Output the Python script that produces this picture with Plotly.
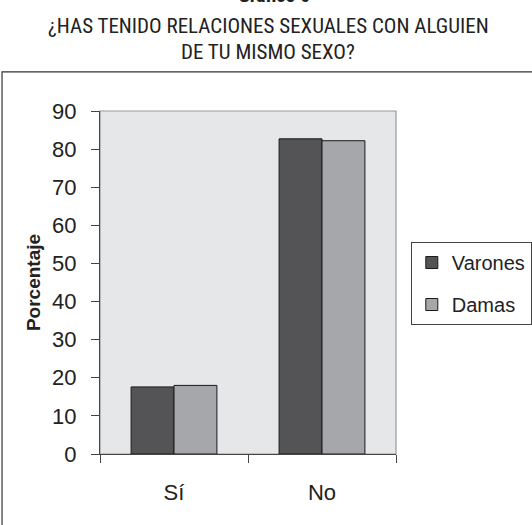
import plotly.graph_objects as go

categories = ["Sí", "No"]
varones = [17.6, 82.7]
damas = [18.0, 82.2]
y_ticks = [0, 10, 20, 30, 40, 50, 60, 70, 80, 90]

fig = go.Figure()
fig.add_trace(go.Bar(
    x=categories, y=varones, name="Varones", legendgroup="v",
    marker=dict(color="#545456", line=dict(color="#1a1a1a", width=1)),
))
fig.add_trace(go.Bar(
    x=categories, y=damas, name="Damas", legendgroup="d",
    marker=dict(color="#a6a7aa", line=dict(color="#1a1a1a", width=1)),
))

# outer frame (right and bottom run off the page)
fig.add_shape(type="rect", xref="paper", yref="paper",
              x0=-0.331, x1=1.8, y0=-0.24, y1=1.114,
              line=dict(color="#333333", width=1.2), layer="below")
# plot area border
fig.add_shape(type="rect", xref="paper", yref="paper",
              x0=0, x1=1, y0=0, y1=1,
              line=dict(color="#999999", width=1.2), layer="below")

title_font = dict(family="Liberation Sans Narrow, Roboto Condensed, Arial Narrow", color="#222222")
fig.add_annotation(text="<b>Gráfico 6</b>", xref="paper", yref="paper",
                   x=0.588, y=1.297, yanchor="bottom", showarrow=False,
                   font=dict(size=20, **title_font))
fig.add_annotation(text="¿HAS TENIDO RELACIONES SEXUALES CON ALGUIEN", xref="paper", yref="paper",
                   x=0.568, y=1.248, yanchor="middle", showarrow=False,
                   font=dict(size=21, **title_font))
fig.add_annotation(text="DE TU MISMO SEXO?", xref="paper", yref="paper",
                   x=0.568, y=1.172, yanchor="middle", showarrow=False,
                   font=dict(size=21, **title_font))

# figure is wider than the window so the frame and legend run off the right edge
fig.update_layout(
    width=560, height=525,
    margin=dict(l=100, r=164, t=111, b=71),
    paper_bgcolor="white",
    plot_bgcolor="#e6e7e9",
    barmode="group",
    bargap=0.42,
    bargroupgap=0,
    font=dict(family="Liberation Sans, Arial", color="#222222"),
    legend=dict(
        x=1.05, y=0.618, xanchor="left", yanchor="top",
        bordercolor="#444444", borderwidth=1, bgcolor="white",
        font=dict(size=20), tracegroupgap=13, itemwidth=30,
    ),
    showlegend=True,
)
fig.update_yaxes(
    range=[0, 90], tickvals=y_ticks, ticks="outside", ticklen=8,
    tickcolor="#444444", showline=True, linecolor="#444444", linewidth=1,
    showgrid=False, zeroline=False, tickfont=dict(size=22),
    ticklabelstandoff=10,
    title=dict(text="<b>Porcentaje</b>", font=dict(size=19), standoff=6),
)
fig.update_xaxes(
    ticks="outside", tickson="boundaries", ticklen=8, tickcolor="#444444",
    showline=True, linecolor="#444444", linewidth=1, showgrid=False,
    tickfont=dict(size=22), ticklabelstandoff=19,
)

fig.write_html(
    "out.html",
    config={"displayModeBar": False},
    post_script="document.body.style.margin='0';document.body.style.overflow='hidden';",
)
